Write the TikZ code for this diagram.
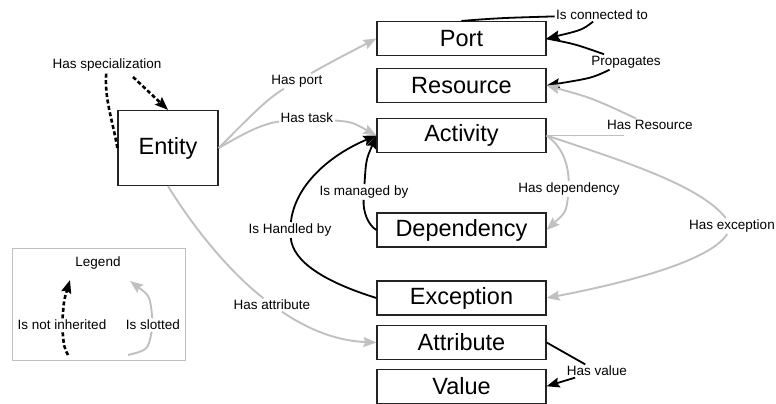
\documentclass[tikz,border=0pt]{standalone}
\usepackage{fontspec}
\setmainfont{Liberation Sans}
\usetikzlibrary{arrows.meta,calc}

\definecolor{edgegray}{RGB}{192,192,192}
\definecolor{boxline}{RGB}{35,35,35}

\begin{document}
\begin{tikzpicture}[x=1pt,y=-1pt,
  box/.style={draw=boxline,line width=1.2pt,minimum width=169pt,minimum height=34pt,
    inner sep=0pt,font=\fontsize{23.5}{26}\selectfont},
  lbl/.style={font=\fontsize{13.5}{15}\selectfont,inner sep=1.5pt},
  tip/.style={-{Stealth[length=13pt,width=10pt,inset=2pt]}},
  grayedge/.style={draw=edgegray,line width=1.9pt},
  blackedge/.style={draw=black,line width=1.8pt},
  dashedge/.style={draw=black,line width=2.6pt,dash pattern=on 4pt off 2.5pt},
]
\useasboundingbox (0,0) rectangle (776,404);

% concept boxes
\node[box,minimum width=100pt,minimum height=75pt] (ent) at (168,148) {Entity};
\node[box] (port) at (461.5,38.5) {Port};
\node[box] (res)  at (461.5,85.5) {Resource};
\node[box] (act)  at (461.5,135.5) {Activity};
\node[box] (dep)  at (461.5,230) {Dependency};
\node[box] (exc)  at (461.5,298) {Exception};
\node[box] (att)  at (461.5,342.5) {Attribute};
\node[box] (val)  at (461.5,386.3) {Value};

% relation labels
\node[lbl] (lspec) at (107,65)  {Has specialization};
\node[lbl] (lport) at (297,81)  {Has port};
\node[lbl] (ltask) at (307,118) {Has task};
\node[lbl] (lattr) at (272,305) {Has attribute};
\node[lbl] (lconn) at (602,15)  {Is connected to};
\node[lbl] (lprop) at (626,62)  {Propagates};
\node[lbl] (lres)  at (650,125) {Has Resource};
\node[lbl] (ldep)  at (569,189) {Has dependency};
\node[lbl] (lexc)  at (732,226) {Has exception};
\node[lbl] (lman)  at (364,192) {Is managed by};
\node[lbl] (lhand) at (290,230) {Is Handled by};
\node[lbl] (lval)  at (597,371) {Has value};

% specialization (not inherited)
\draw[dashedge] (ent.west) .. controls (113,122) and (104,98) .. (lspec);
\draw[dashedge,tip] ($(lspec.south)+(26,4)$) -- (ent.north);

% slotted relations from Entity
\draw[grayedge] (ent.east) .. controls (245,122) and (265,100) .. (lport);
\draw[grayedge,tip] (lport) .. controls (335,60) .. (port.west);
\draw[grayedge] (ent.east) .. controls (240,136) and (260,124) .. (ltask);
\draw[grayedge,tip] (ltask) .. controls (352,122) .. (act.west);
\draw[grayedge] (ent.south) .. controls (195,230) and (230,272) .. (lattr);
\draw[grayedge,tip] (lattr) .. controls (312,332) and (340,341) .. (att.west);

% Port relations
\draw[blackedge] (port.north) .. controls (500,18) .. (lconn);
\draw[blackedge,tip] (lconn) .. controls (582,30) .. (port.east);
\draw[blackedge] (port.east) .. controls (575,44) .. (lprop);
\draw[blackedge,tip] (lprop) .. controls (592,78) .. (res.east);

% Activity relations
\draw[grayedge] (act.east) -- ($(lres.west |- act.east)+(18,0)$);
\draw[grayedge,tip] (lres) .. controls (592,98) .. (res.east);
\draw[grayedge] (act.east) .. controls (560,145) and (568,160) .. (ldep);
\draw[grayedge,tip] (ldep) .. controls (566,212) .. (dep.east);
\draw[grayedge] (act.east) .. controls (620,160) and (700,185) .. (lexc);
\draw[grayedge,tip] (lexc) .. controls (710,262) and (620,284) .. (exc.east);

% managed / handled by
\draw[blackedge] (dep.west) .. controls (368,225) and (363,212) .. (lman);
\draw[blackedge,tip] (lman) .. controls (366,160) .. (act.west);
\draw[blackedge] (exc.west) .. controls (325,282) and (293,262) .. (lhand);
\draw[blackedge,tip] (lhand) .. controls (295,185) and (330,155) .. (act.west);

% value
\draw[blackedge] (att.east) -- (lval);
\draw[blackedge,tip] (lval) -- (val.east);

% legend
\node[draw=edgegray,line width=1pt,minimum width=173pt,minimum height=112pt,inner sep=0pt]
  (legendbox) at (98.5,304) {};
\node[lbl] (lleg)  at (98,263)  {Legend};
\node[lbl] (lnot)  at (62,325)  {Is not inherited};
\node[lbl] (lslot) at (153,325) {Is slotted};
\coordinate (nfrom) at (68,355);
\coordinate (nto)   at (70,280);
\coordinate (sfrom) at (128,355);
\coordinate (sto)   at (130,281);
\draw[dashedge] (nfrom) .. controls (64,347) .. (lnot);
\draw[dashedge,tip] (lnot) .. controls (64,300) .. (nto);
\draw[grayedge] (sfrom) .. controls (148,350) .. (lslot);
\draw[grayedge,tip] (lslot) .. controls (150,296) .. (sto);
\end{tikzpicture}
\end{document}
